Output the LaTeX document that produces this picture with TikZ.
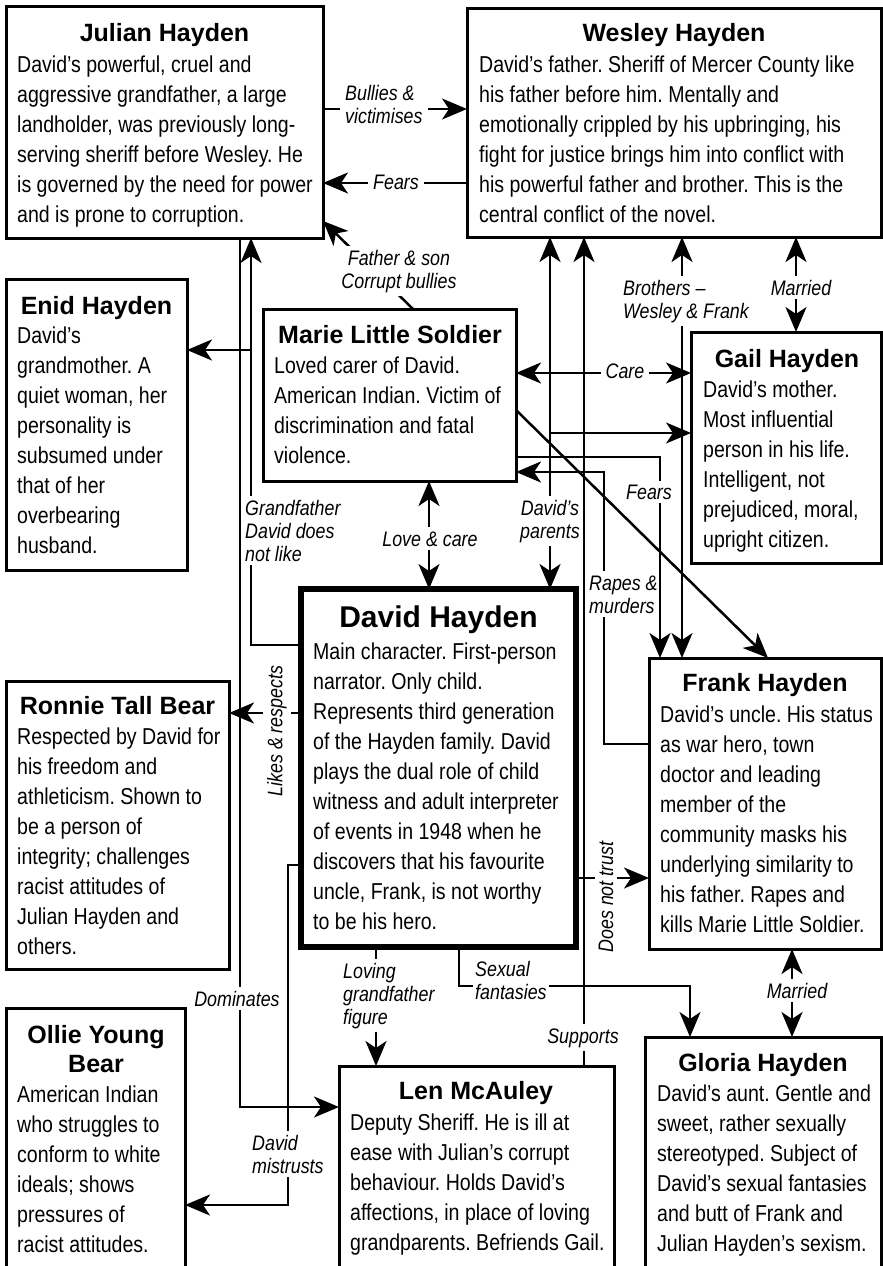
\documentclass[tikz,border=0pt]{standalone}
\usepackage{fontspec}
\newfontfamily\bodyfont{Liberation Sans}[FakeStretch=0.85]
\newfontfamily\headfont{Liberation Sans}
\newfontfamily\labfont{Liberation Sans}[FakeStretch=0.85]
\usetikzlibrary{arrows.meta}
\frenchspacing
\newcommand\Lt[1]{\vtop{\halign{##\hfil\cr#1\crcr}}}
\newcommand\Ct[1]{\vtop{\halign{\hfil##\hfil\cr#1\crcr}}}
\tikzset{
  box/.style={draw, line width=3pt, fill=white, anchor=north west, inner sep=0pt, outer sep=0pt},
  mainbox/.style={box, line width=5.5pt},
  body/.style={font={\bodyfont\fontsize{23}{30}\selectfont}, anchor=base west, inner sep=0pt},
  head/.style={font={\headfont\bfseries\fontsize{25}{29}\selectfont}, anchor=base, inner sep=0pt},
  bighead/.style={font={\headfont\bfseries\fontsize{30}{34}\selectfont}, anchor=base, inner sep=0pt},
  lab/.style={font={\labfont\itshape\fontsize{21}{23}\selectfont}, fill=white, inner xsep=5pt, inner ysep=4pt},
  conn/.style={line width=2.5pt},
  tip/.style={-{Stealth[length=25pt,width=21pt,inset=7pt]}},
  tips/.style={{Stealth[length=25pt,width=21pt,inset=7pt]}-{Stealth[length=25pt,width=21pt,inset=7pt]}},
}
\begin{document}
\begin{tikzpicture}[x=1pt,y=-1pt]
\fill[white] (0,0) rectangle (883,1266);
\useasboundingbox (0,0) rectangle (883,1266);
\clip (0,0) rectangle (883,1266);

% ---------------- boxes ----------------
\node[box, minimum width=317pt, minimum height=232pt] (julian) at (6,6) {};
\node[box, minimum width=414pt, minimum height=229pt] (wesley) at (467,8) {};
\node[box, minimum width=181pt, minimum height=291pt] (enid) at (6,279) {};
\node[box, minimum width=253pt, minimum height=172pt] (marie) at (263,309) {};
\node[box, minimum width=190pt, minimum height=231pt] (gail) at (691,332) {};
\node[mainbox, minimum width=275pt, minimum height=358pt] (david) at (301,589) {};
\node[box, minimum width=223pt, minimum height=288pt] (ronnie) at (6,681) {};
\node[box, minimum width=232pt, minimum height=291pt] (frank) at (649,658) {};
\node[box, minimum width=179pt, minimum height=290pt] (ollie) at (6,1008) {};
\node[box, minimum width=275pt, minimum height=230pt] (len) at (339,1066) {};
\node[box, minimum width=236pt, minimum height=260pt] (gloria) at (645,1037) {};

% ---------------- box texts ----------------
\node[head] (tjulian) at (164.5,41) {Julian Hayden};
\node[body] (bjulian) at (17,72) {\Lt{David’s powerful, cruel and\cr
aggressive grandfather, a large\cr
landholder, was previously long-\cr
serving sheriff before Wesley. He\cr
is governed by the need for power\cr
and is prone to corruption.}};

\node[head] (twesley) at (674,41) {Wesley Hayden};
\node[body] (bwesley) at (479,72) {\Lt{David’s father. Sheriff of Mercer County like\cr
his father before him. Mentally and\cr
emotionally crippled by his upbringing, his\cr
fight for justice brings him into conflict with\cr
his powerful father and brother. This is the\cr
central conflict of the novel.}};

\node[head] (tenid) at (96.5,314) {Enid Hayden};
\node[body] (benid) at (17,343) {\Lt{David’s\cr grandmother. A\cr quiet woman, her\cr personality is\cr subsumed under\cr that of her\cr overbearing\cr husband.}};

\node[head] (tmarie) at (390,343) {Marie Little Soldier};
\node[body] (bmarie) at (274,373) {\Lt{Loved carer of David.\cr American Indian. Victim of\cr discrimination and fatal\cr violence.}};

\node[head] (tgail) at (787,367) {Gail Hayden};
\node[body] (bgail) at (703,397) {\Lt{David’s mother.\cr Most influential\cr person in his life.\cr Intelligent, not\cr prejudiced, moral,\cr upright citizen.}};

\node[bighead] (tdavid) at (438.5,627) {David Hayden};
\node[body] (bdavid) at (313,659) {\Lt{Main character. First-person\cr
narrator. Only child.\cr
Represents third generation\cr
of the Hayden family. David\cr
plays the dual role of child\cr
witness and adult interpreter\cr
of events in 1948 when he\cr
discovers that his favourite\cr
uncle, Frank, is not worthy\cr
to be his hero.}};

\node[head] (tronnie) at (117.5,714) {Ronnie Tall Bear};
\node[body] (bronnie) at (17,744) {\Lt{Respected by David for\cr his freedom and\cr athleticism. Shown to\cr be a person of\cr integrity; challenges\cr racist attitudes of\cr Julian Hayden and\cr others.}};

\node[head] (tfrank) at (765,691) {Frank Hayden};
\node[body] (bfrank) at (660,722) {\Lt{David’s uncle. His status\cr as war hero, town\cr doctor and leading\cr member of the\cr community masks his\cr underlying similarity to\cr his father. Rapes and\cr kills Marie Little Soldier.}};

\node[head] (tollie) at (96,1043) {\Ct{Ollie Young\cr Bear}};
\node[body] (bollie) at (17,1102) {\Lt{American Indian\cr who struggles to\cr conform to white\cr ideals; shows\cr pressures of\cr racist attitudes.}};

\node[head] (tlen) at (476,1099) {Len McAuley};
\node[body] (blen) at (350,1130) {\Lt{Deputy Sheriff. He is ill at\cr ease with Julian’s corrupt\cr behaviour. Holds David’s\cr affections, in place of loving\cr grandparents. Befriends Gail.}};

\node[head] (tgloria) at (763,1071) {Gloria Hayden};
\node[body] (bgloria) at (657,1101) {\Lt{David’s aunt. Gentle and\cr sweet, rather sexually\cr stereotyped. Subject of\cr David’s sexual fantasies\cr and butt of Frank and\cr Julian Hayden’s sexism.}};

% ---------------- junction coordinates ----------------
\coordinate (enidj) at (251,350);
\coordinate (dmj) at (288,1205);
\coordinate (parj) at (550,433);
\coordinate (rapj) at (604,472);
\coordinate (sexj) at (690,986);

% ---------------- connectors ----------------
\draw[conn,tip] (julian.east |- 0,109) -- (wesley.west |- 0,109);
\draw[conn,tip] (wesley.west |- 0,183) -- (julian.east |- 0,183);
\draw[conn,tip] (marie.north -| 413,0) -- (julian.east |- 0,221);
\draw[conn,tip] (david.west |- 0,645) -| (julian.south -| 251,0);
\draw[conn,tip] (enidj) -- (enid.east |- enidj);
\draw[conn,tip] (julian.south -| 240,0) |- (len.west |- 0,1107);
\draw[conn,tip] (david.west |- 0,713) -- (ronnie.east |- 0,713);
\draw[conn,tip] (david.west |- 0,865) -| (dmj) -- (ollie.east |- dmj);
\draw[conn,tips] (marie.south -| 429,0) -- (david.north -| 429,0);
\draw[conn,tips] (wesley.south -| parj) -- (david.north -| parj);
\draw[conn,tip] (parj) -- (gail.west |- parj);
\draw[conn,tip] (len.north -| 584,0) -- (wesley.south -| 584,0);
\draw[conn,tips] (wesley.south -| 682,0) -- (frank.north -| 682,0);
\draw[conn,tips] (wesley.south -| 796,0) -- (gail.north -| 796,0);
\draw[conn,tips] (marie.east |- 0,373) -- (gail.west |- 0,373);
\draw[conn,tip] (marie.east |- 0,457) -| (frank.north -| 660,0);
\draw[conn,tip] (frank.west |- 0,744) -| (rapj) -- (marie.east |- rapj);
\draw[conn,tip] (marie.east |- 0,410) -- (frank.north -| 768,0);
\draw[conn,tip] (david.east |- 0,878) -- (frank.west |- 0,878);
\draw[conn,tip] (david.south -| 376,0) -- (len.north -| 376,0);
\draw[conn,tip] (david.south -| 459,0) |- (sexj) -- (gloria.north -| sexj);
\draw[conn,tips] (frank.south -| 792,0) -- (gloria.north -| 792,0);

% ---------------- labels ----------------
\node[lab, anchor=base west] (lbully) at (340,100) {\Lt{Bullies \&\cr victimises}};
\node[lab, anchor=base] (lfears1) at (396,189) {Fears};
\node[lab, anchor=base, inner xsep=2pt] (lfather) at (399,265) {\Ct{Father \& son\cr Corrupt bullies}};
\node[lab, anchor=base west, inner xsep=1.5pt] (lgrand) at (243.5,515) {\Lt{Grandfather\cr David does\cr not like}};
\node[lab, anchor=base, inner xsep=2pt] (ldom) at (237,1006) {Dominates};
\node[lab, rotate=90] (llikes) at (277,731) {Likes \& respects};
\node[lab, anchor=base west, inner xsep=1.5pt] (lmis) at (250.5,1150) {\Lt{David\cr mistrusts}};
\node[lab, anchor=base] (llove) at (430,546) {Love \& care};
\node[lab, anchor=base, inner xsep=1.5pt] (lpar) at (550,515) {\Ct{David’s\cr parents}};
\node[lab, anchor=base] (lsup) at (583,1043) {Supports};
\node[lab, anchor=base west, inner xsep=2pt] (lbro) at (621,295) {\Lt{Brothers –\cr Wesley \& Frank}};
\node[lab, anchor=base] (lmar1) at (801,295) {Married};
\node[lab, anchor=base] (lcare) at (625,378) {Care};
\node[lab, anchor=base, inner xsep=2pt] (lfears2) at (649,499) {Fears};
\node[lab, anchor=base west, inner xsep=1.5pt] (lrape) at (587.5,590) {\Lt{Rapes \&\cr murders}};
\node[lab, rotate=90] (ltrust) at (606,897) {Does not trust};
\node[lab, anchor=base west, inner xsep=2pt] (llov) at (341,978) {\Lt{Loving\cr grandfather\cr figure}};
\node[lab, anchor=base west, inner xsep=2pt] (lsex) at (473,976) {\Lt{Sexual\cr fantasies}};
\node[lab, anchor=base] (lmar2) at (797,998) {Married};
\end{tikzpicture}
\end{document}
